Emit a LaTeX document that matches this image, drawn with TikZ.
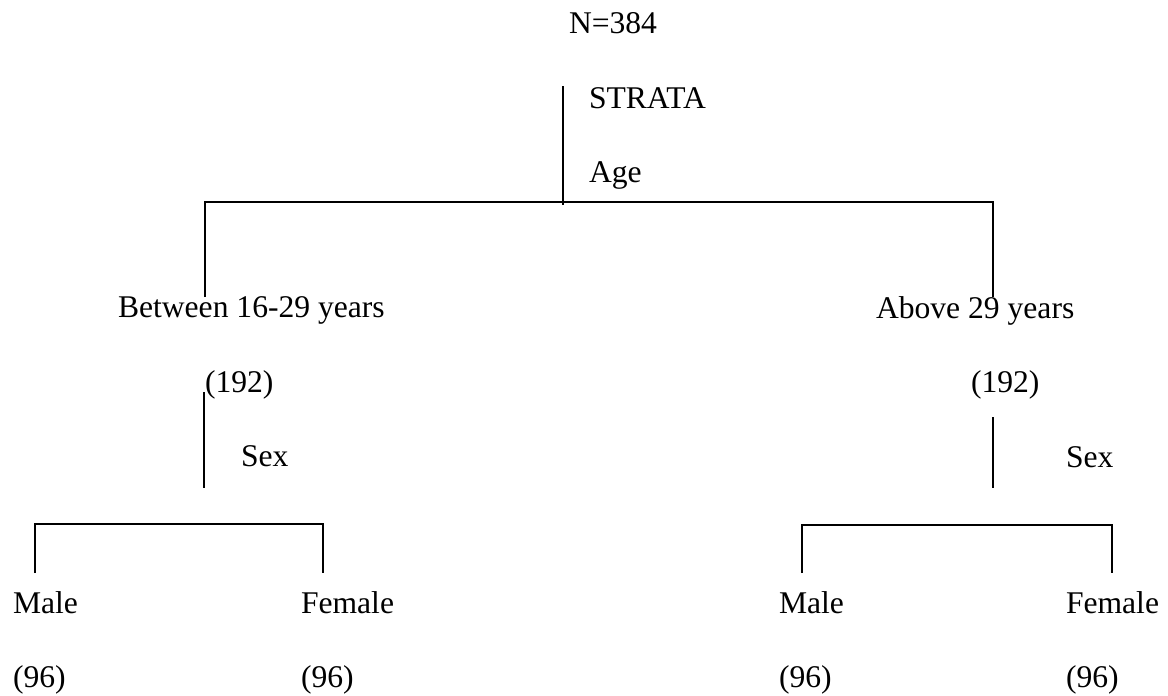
\documentclass[tikz,border=0pt]{standalone}
\usepackage{fontspec}
\setmainfont{Liberation Serif}

\begin{document}
\begin{tikzpicture}[x=0.5pt,y=-0.5pt,line width=1pt]
\tikzset{lbl/.style={inner sep=0pt,anchor=base west,font=\fontsize{15.8}{19}\selectfont}}
\useasboundingbox (0,0) rectangle (1168,696);
\node[lbl] (total) at (568,33) {N=384};
\node[lbl] (strata) at (588,108) {STRATA};
\node[lbl] (age) at (588,182) {Age};
\node[lbl] (young) at (117,317) {Between 16-29 years};
\node[lbl] (old) at (875,318) {Above 29 years};
\node[lbl] (youngn) at (204,392) {(192)};
\node[lbl] (oldn) at (970,392) {(192)};
\node[lbl] (ysex) at (240,466) {Sex};
\node[lbl] (osex) at (1065,467) {Sex};
\node[lbl] (ym) at (12,613) {Male};
\node[lbl] (yf) at (300,613) {Female};
\node[lbl] (om) at (778,613) {Male};
\node[lbl] (of) at (1065,613) {Female};
\node[lbl] (ymn) at (12,687) {(96)};
\node[lbl] (yfn) at (300,687) {(96)};
\node[lbl] (omn) at (778,687) {(96)};
\node[lbl] (ofn) at (1065,687) {(96)};
\coordinate (root) at (563,86);
\coordinate (split) at (563,205);
\coordinate (lt) at (205,202);
\coordinate (rt) at (993,202);
\coordinate (lb) at (205,297);
\coordinate (rb) at (993,297);
\coordinate (ls) at (204,392);
\coordinate (le) at (204,488);
\coordinate (rs) at (993,417);
\coordinate (re) at (993,488);
\coordinate (ylt) at (35,524);
\coordinate (yrt) at (323,524);
\coordinate (ylb) at (35,573);
\coordinate (yrb) at (323,573);
\coordinate (olt) at (802,525);
\coordinate (ort) at (1112,525);
\coordinate (olb) at (802,573);
\coordinate (orb) at (1112,573);
\draw (root)--(split);
\draw (lb)--(lt)--(rt)--(rb);
\draw (ls)--(le);
\draw (rs)--(re);
\draw (ylb)--(ylt)--(yrt)--(yrb);
\draw (olb)--(olt)--(ort)--(orb);
\end{tikzpicture}
\end{document}
